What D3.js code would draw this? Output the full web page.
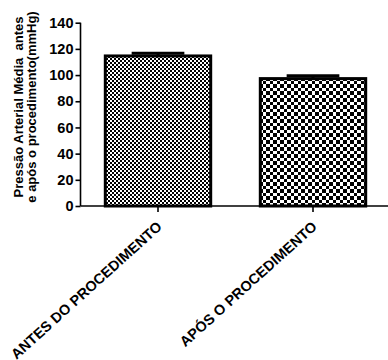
<!DOCTYPE html>
<html>
<head>
<meta charset="utf-8">
<script src="https://cdn.jsdelivr.net/npm/d3@7"></script>
<style>
  html, body { margin: 0; padding: 0; background: #fff; }
  svg { display: block; }
  text { font-family: Arial, "Liberation Sans", Helvetica, sans-serif; font-weight: bold; fill: #000; white-space: pre; }
</style>
</head>
<body>
<svg id="chart" width="388" height="360"></svg>
<script>
// Mean arterial pressure before / after the procedure (mean ± SEM)
const categories = ["ANTES DO PROCEDIMENTO", "APÓS O PROCEDIMENTO"];
const means = [114.6, 97.3];
const errors = [2.0, 2.2];
const yTicks = [0, 20, 40, 60, 80, 100, 120, 140];
const yTitleLines = ["Pressão Arterial Média  antes", "e após o procedimento(mmHg)"];
const patternIds = ["checkFine", "checkCoarse"];

const svg = d3.select("#chart");
const W = 388, H = 360;
const plot = { left: 80.5, right: 390.5, top: 22.7, bottom: 206 };

const x = d3.scaleBand()
  .domain(categories)
  .range([plot.left, plot.right])
  .paddingInner(0.32)
  .paddingOuter(0.16);

const y = d3.scaleLinear()
  .domain([0, 140])
  .range([plot.bottom, plot.top]);

// Checkerboard fills
const defs = svg.append("defs");
function checker(id, a, b) {
  const p = defs.append("pattern")
    .attr("id", id)
    .attr("patternUnits", "userSpaceOnUse")
    .attr("x", 0).attr("y", 0)
    .attr("width", a + b).attr("height", a + b);
  p.append("rect").attr("width", a + b).attr("height", a + b).attr("fill", "#fff");
  p.append("rect").attr("x", 0).attr("y", 0).attr("width", a).attr("height", a).attr("fill", "#000");
  p.append("rect").attr("x", a).attr("y", a).attr("width", b).attr("height", b).attr("fill", "#000");
  p.selectAll("rect").attr("shape-rendering", "crispEdges");
}
checker(patternIds[0], 2, 2);
checker(patternIds[1], 4, 3);

// Bars
svg.append("g").selectAll("rect")
  .data(categories)
  .join("rect")
  .attr("x", d => x(d))
  .attr("y", (d, i) => y(means[i]))
  .attr("width", x.bandwidth())
  .attr("height", (d, i) => y(0) - y(means[i]))
  .attr("fill", (d, i) => `url(#${patternIds[i]})`)
  .attr("stroke", "#000")
  .attr("stroke-width", 3);

// Error bars (upper only)
const eb = svg.append("g").attr("stroke", "#000").attr("stroke-width", 3);
categories.forEach((c, i) => {
  const cx = x(c) + x.bandwidth() / 2;
  const capW = x.bandwidth() * 0.5;
  eb.append("line")
    .attr("x1", cx).attr("x2", cx)
    .attr("y1", y(means[i])).attr("y2", y(means[i] + errors[i]));
  eb.append("line")
    .attr("x1", cx - capW / 2).attr("x2", cx + capW / 2)
    .attr("y1", y(means[i] + errors[i])).attr("y2", y(means[i] + errors[i]));
});

// Y axis
const yAxis = svg.append("g")
  .attr("transform", `translate(${plot.left},0)`)
  .call(d3.axisLeft(y).tickValues(yTicks).tickSize(5).tickPadding(2).tickFormat(d3.format("d")));
yAxis.select(".domain").attr("stroke-width", 1.6).attr("d", `M0,${plot.top}V${plot.bottom}`);
yAxis.selectAll(".tick line").attr("stroke-width", 1.6);
yAxis.selectAll(".tick text").style("font-size", "14.5px").style("font-weight", "bold");

// X axis
const xAxis = svg.append("g")
  .attr("transform", `translate(0,${plot.bottom})`)
  .call(d3.axisBottom(x).tickSize(6).tickSizeOuter(0));
xAxis.select(".domain").attr("stroke-width", 1.6).attr("d", `M${plot.left},0H${W}`);
xAxis.selectAll(".tick line").attr("stroke-width", 1.6);
xAxis.selectAll(".tick text")
  .style("font-size", "14.5px")
  .style("font-weight", "bold")
  .attr("text-anchor", "end")
  .attr("dy", null)
  .attr("y", null)
  .attr("transform", "translate(5,22) rotate(-42)");

// Y axis title
const title = svg.append("text")
  .attr("transform", "translate(0,107) rotate(-90)")
  .attr("text-anchor", "middle")
  .style("font-size", "13px");
title.selectAll("tspan")
  .data(yTitleLines)
  .join("tspan")
  .attr("x", 0)
  .attr("y", (d, i) => 23 + i * 13)
  .text(d => d);
</script>
</body>
</html>
